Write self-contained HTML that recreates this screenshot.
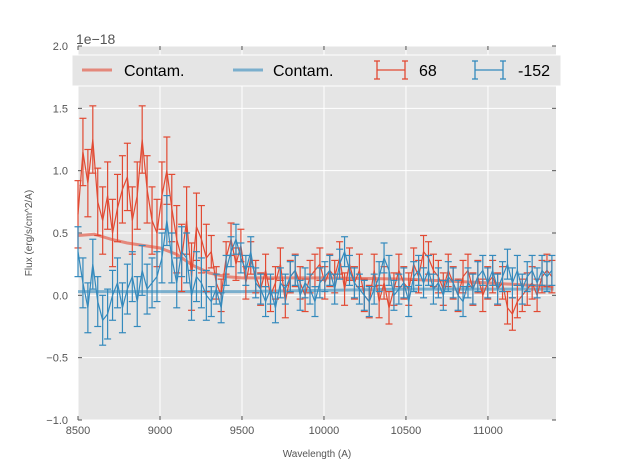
<!DOCTYPE html>
<html><head><meta charset="utf-8"><style>
body{margin:0;background:#fff;width:617px;height:467px;overflow:hidden}
svg text{font-family:"Liberation Sans",sans-serif}
</style></head><body>
<svg id="chart" width="617" height="467">
<rect x="78" y="46" width="478" height="374" fill="#e5e5e5"/>
<g id="grid"></g><g id="axes"></g><g id="series"></g>
<text x="76" y="44" font-size="14" fill="#555">1e−18</text>
<text x="317" y="457" font-size="10" fill="#555" text-anchor="middle">Wavelength (A)</text>
<text transform="translate(32,233) rotate(-90)" font-size="10" fill="#555" text-anchor="middle">Flux (erg/s/cm^2/A)</text>
<g>
<rect x="72" y="55" width="489" height="31" fill="#e5e5e5" stroke="#fff" stroke-width="1"/>
<line x1="82" y1="70" x2="112" y2="70" stroke="#E24A33" stroke-opacity="0.6" stroke-width="3"/>
<text x="124" y="76" font-size="16" fill="#000">Contam.</text>
<line x1="233" y1="70" x2="263" y2="70" stroke="#348ABD" stroke-opacity="0.6" stroke-width="3"/>
<text x="273" y="76" font-size="16" fill="#000">Contam.</text>
<g stroke="#E24A33" stroke-width="1.3"><line x1="377" y1="70" x2="405" y2="70"/><line x1="377" y1="61" x2="377" y2="79"/><line x1="405" y1="61" x2="405" y2="79"/><line x1="374" y1="61" x2="380" y2="61"/><line x1="374" y1="79" x2="380" y2="79"/><line x1="402" y1="61" x2="408" y2="61"/><line x1="402" y1="79" x2="408" y2="79"/></g>
<text x="419" y="76" font-size="16" fill="#000">68</text>
<g stroke="#348ABD" stroke-width="1.3"><line x1="475" y1="70" x2="503" y2="70"/><line x1="475" y1="61" x2="475" y2="79"/><line x1="503" y1="61" x2="503" y2="79"/><line x1="472" y1="61" x2="478" y2="61"/><line x1="472" y1="79" x2="478" y2="79"/><line x1="500" y1="61" x2="506" y2="61"/><line x1="500" y1="79" x2="506" y2="79"/></g>
<text x="518" y="76" font-size="16" fill="#000">-152</text>
</g>
</svg>
<script>
const xTicks=[8500,9000,9500,10000,10500,11000];
const yTicks=[-1.0,-0.5,0.0,0.5,1.0,1.5,2.0];
const yTickLabels=["−1.0","−0.5","0.0","0.5","1.0","1.5","2.0"];
const wlStart=8500, wlEnd=11390;
const redFlux=[0.65,1.15,0.9,1.25,0.75,0.6,0.8,0.5,0.7,0.85,0.95,0.6,0.8,1.25,0.85,0.6,0.5,0.8,1.0,0.7,
0.45,0.3,0.6,0.15,0.55,0.45,0.3,0.35,0.1,0.0,
0.3,0.45,0.25,0.4,0.1,0.3,0.15,0.05,0.2,0.0,
0.1,0.25,-0.05,0.15,0.2,0.1,0.0,0.15,0.2,0.25,
0.1,0.2,0.15,0.3,0.05,0.25,0.1,0.2,0.0,-0.05,
0.2,-0.05,0.1,-0.1,0.05,0.2,0.1,0.05,0.25,0.15,
0.35,0.3,0.2,0.15,0.05,0.2,0.1,0.0,0.15,0.2,
0.05,0.15,0.0,0.1,0.15,0.05,0.1,-0.1,-0.15,-0.05,
0.0,0.05,0.1,0.0,0.15,0.2,0.15];
const blueFlux=[0.35,0.1,-0.1,0.25,-0.05,-0.2,-0.15,0.0,0.1,-0.1,0.05,0.15,-0.05,0.2,0.05,0.1,0.15,0.3,0.6,0.3,
0.1,0.35,0.3,0.0,0.15,0.1,0.0,-0.05,0.05,-0.1,
0.2,0.35,0.45,0.3,0.2,0.35,0.1,0.05,-0.05,0.05,
-0.1,0.1,0.05,0.15,0.2,0.0,0.1,0.05,-0.05,0.1,
0.15,0.2,0.05,0.25,0.35,0.2,0.1,0.05,0.0,-0.05,
0.05,0.15,0.3,0.2,0.0,0.05,0.1,-0.05,0.15,0.2,
0.1,0.2,0.05,0.1,0.0,0.15,0.1,0.0,-0.05,0.1,
0.05,0.15,0.2,0.1,0.2,0.05,0.15,0.25,0.1,0.2,
0.05,0.15,0.2,0.1,0.2,0.15,0.2];
const redErrEarly=0.27, redErrLate=0.13, blueErrEarly=0.2, blueErrLate=0.12;
const contamWl=[8500,8600,8700,8800,9000,9100,9200,9300,9400,9500,10000,10500,11000,11400];
const contamRed=[0.48,0.49,0.45,0.42,0.38,0.33,0.24,0.18,0.15,0.14,0.14,0.13,0.1,0.07];
const contamBlue=[0.03,0.03,0.03,0.03,0.03,0.03,0.03,0.03,0.03,0.03,0.04,0.05,0.05,0.05];
const X0=78,X1=556,Y0=46,Y1=420,xmin=8500,xmax=11415,ymin=-1,ymax=2;
const sx=v=>X0+(v-xmin)/(xmax-xmin)*(X1-X0);
const sy=v=>Y1-(v-ymin)/(ymax-ymin)*(Y1-Y0);
const NS="http://www.w3.org/2000/svg";
function mk(t,a,p){const e=document.createElementNS(NS,t);for(const k in a)e.setAttribute(k,a[k]);p.appendChild(e);return e;}
const grid=document.getElementById('grid'),axes=document.getElementById('axes'),ser=document.getElementById('series');
xTicks.forEach(t=>{const x=sx(t);
 const g=mk('line',{x1:x,x2:x,y1:Y0,y2:Y1,stroke:'#fff','stroke-width':1},grid);
 
 
 mk('line',{x1:x,x2:x,y1:Y1,y2:Y1-4,stroke:'#555'},axes);mk('line',{x1:x,x2:x,y1:Y0,y2:Y0+4,stroke:'#555'},axes);
 const l=mk('text',{x:x,y:Y1+14,'font-size':11,fill:'#555','text-anchor':'middle'},axes);l.textContent=t;
 
 });
yTicks.forEach((t,i)=>{const y=sy(t);
 const g=mk('line',{x1:X0,x2:X1,y1:y,y2:y,stroke:'#fff','stroke-width':1},grid);
 
 
 mk('line',{x1:X0,x2:X0+4,y1:y,y2:y,stroke:'#555'},axes);mk('line',{x1:X1,x2:X1-4,y1:y,y2:y,stroke:'#555'},axes);
 const l=mk('text',{x:X0-10,y:y+4,'font-size':11,fill:'#555','text-anchor':'end'},axes);l.textContent=yTickLabels[i];
 
 });
function contam(vals,col,name){const p=mk('polyline',{points:contamWl.map((w,i)=>sx(w)+','+sy(vals[i])).join(' '),fill:'none',stroke:col,'stroke-opacity':0.6,'stroke-width':3},ser);
 
 }
function errSeries(vals,col,eE,eL,name){const step=(wlEnd-wlStart)/(vals.length-1);
 const g=mk('g',{stroke:col,'stroke-width':1.2,fill:'none'},ser);
 
 
 vals.forEach((v,i)=>{const w=wlStart+i*step,x=sx(w);const e=w<9300?eE:eL;
  const a=sy(v+e),b=sy(v-e);mk('line',{x1:x,x2:x,y1:a,y2:b},g);
  mk('line',{x1:x-3.5,x2:x+3.5,y1:a,y2:a},g);mk('line',{x1:x-3.5,x2:x+3.5,y1:b,y2:b},g);});
 mk('polyline',{points:vals.map((v,i)=>sx(wlStart+i*step)+','+sy(v)).join(' ')},g);}
contam(contamRed,'#E24A33','contam-red-line');
contam(contamBlue,'#348ABD','contam-blue-line');
errSeries(redFlux,'#E24A33',redErrEarly,redErrLate,'series-68');
errSeries(blueFlux,'#348ABD',blueErrEarly,blueErrLate,'series-152');
</script>
</body></html>
